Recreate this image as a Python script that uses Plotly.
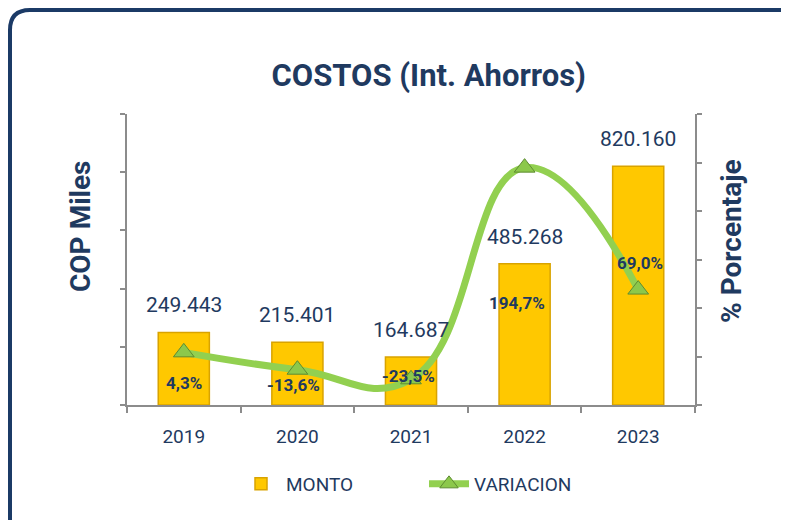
import plotly.graph_objects as go

# ---- data ----
years = ["2019", "2020", "2021", "2022", "2023"]
monto = [249443, 215401, 164687, 485268, 820160]
variacion = [4.3, -13.6, -23.5, 194.7, 69.0]

NAVY = "#1F3A60"
GRAY = "#8C8C8C"
FONT = "Roboto, sans-serif"

# page body has an 8px margin: figure starts at (8, 8) of the window
OFF = 8
W, H = 789 - OFF, 520 - OFF
L, R, T, B = 127 - OFF, 94, 114 - OFF, 115
PW, PH = W - L - R, H - T - B


def px(x):
    """window pixel x -> paper x"""
    return (x - OFF - L) / PW


def py(y):
    """window pixel y -> paper y"""
    return (H - B - (y - OFF)) / PH


fig = go.Figure()

fig.add_trace(go.Bar(
    x=years, y=monto, name="MONTO", width=0.45,
    marker=dict(color="#FFC800", line=dict(color="#D9A300", width=1.5)),
    yaxis="y",
))

fig.add_trace(go.Scatter(
    x=years, y=variacion, name="VARIACION", yaxis="y2",
    mode="lines+markers",
    line=dict(color="#92D050", width=7, shape="spline", smoothing=1.3),
    marker=dict(symbol="triangle-up", size=18, color="#8CC84B",
                line=dict(color="#5E8C31", width=1)),
))

annotations = []
# value labels above bars (x given as category index)
for i, v in enumerate(monto):
    annotations.append(dict(
        x=i, y=v, xref="x", yref="y", text=f"{v:,}".replace(",", "."),
        showarrow=False, yshift=27, font=dict(family=FONT, size=21, color=NAVY),
    ))

# percentage labels near markers (offsets in pixels)
pct_offsets = [(0, -31), (-4, -15), (-3, 3), (-8, -135), (2, 27)]
for i, (v, (dx, dy)) in enumerate(zip(variacion, pct_offsets)):
    annotations.append(dict(
        x=i, y=v, xref="x", yref="y2",
        text=f"{v:.1f}".replace(".", ",") + "%",
        showarrow=False, xshift=dx, yshift=dy,
        font=dict(family=FONT, size=17, color=NAVY, weight="bold"),
    ))

# axis titles
annotations.append(dict(
    x=px(80), y=py(227), xref="paper", yref="paper", text="COP Miles",
    textangle=-90, showarrow=False, xanchor="center", yanchor="middle",
    font=dict(family=FONT, size=28, color=NAVY, weight="bold"),
))
annotations.append(dict(
    x=px(731), y=py(241), xref="paper", yref="paper", text="% Porcentaje",
    textangle=-90, showarrow=False, xanchor="center", yanchor="middle",
    font=dict(family=FONT, size=28, color=NAVY, weight="bold"),
))

# frame
frame_path = (
    f"M {px(10)},{py(545)} L {px(10)},{py(30)} "
    f"Q {px(10)},{py(10)} {px(30)},{py(10)} "
    f"L {px(783)},{py(10)} Q {px(803)},{py(10)} {px(803)},{py(30)} "
    f"L {px(803)},{py(545)}"
)

fig.update_layout(
    width=W, height=H,
    margin=dict(l=L, r=R, t=T, b=B),
    paper_bgcolor="white", plot_bgcolor="white",
    separators=",.",
    title=dict(text="<b>COSTOS (Int. Ahorros)</b>", x=px(433), xanchor="center",
               y=1 - (75 - OFF) / H, yanchor="middle",
               font=dict(family=FONT, size=31, color=NAVY)),
    showlegend=True,
    legend=dict(orientation="h", x=0.5 + 13 / PW, xanchor="center", y=py(484), yanchor="middle",
                font=dict(family=FONT, size=19, color=NAVY),
                entrywidth=133, entrywidthmode="pixels", itemwidth=40),
    xaxis=dict(type="category", range=[-0.5, len(years) - 0.5],
               showline=True, linecolor=GRAY, linewidth=2, ticks="outside",
               tickson="boundaries", ticklen=6, tickcolor=GRAY, tickwidth=2,
               ticklabelstandoff=13,
               tickfont=dict(family=FONT, size=19, color=NAVY), showgrid=False),
    yaxis=dict(range=[0, 1000000], dtick=200000, showticklabels=False,
               showline=True, linecolor=GRAY, linewidth=2, ticks="outside",
               ticklen=5, tickcolor=GRAY, tickwidth=2, showgrid=False, zeroline=False),
    yaxis2=dict(range=[-50, 250], dtick=50, overlaying="y", side="right",
                showticklabels=False, showline=True, linecolor=GRAY, linewidth=2,
                ticks="outside", ticklen=5, tickcolor=GRAY, tickwidth=2,
                showgrid=False, zeroline=False),
    annotations=annotations,
    shapes=[dict(type="path", path=frame_path, xref="paper", yref="paper",
                 line=dict(color="#1B3A66", width=4), layer="above")],
)

fig.write_html("out.html")
